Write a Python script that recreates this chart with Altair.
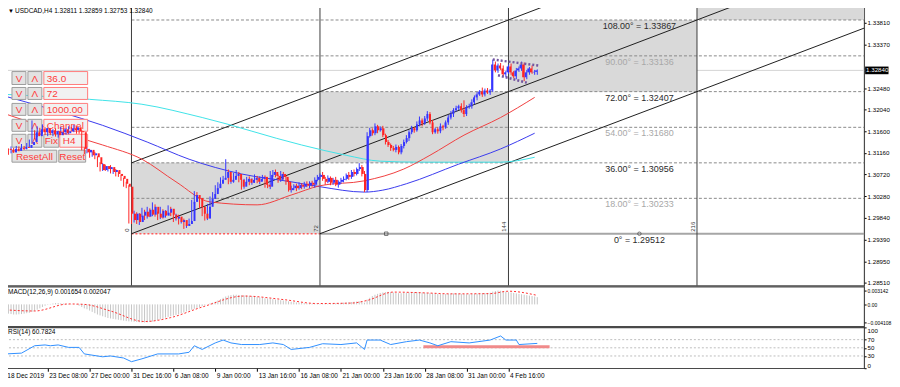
import altair as alt
import pandas as pd

FONT = "Liberation Sans"
W, H_MAIN, H_MACD, H_RSI = 863, 281, 40, 41
PX_PER_BAR = 2.63

# ---------------- candles (H4 bars, index 0 = first Gann cycle line) ----------------
bars = list(range(-48, 156))
first_open = 1.3124
closes = [
    1.3122, 1.3117, 1.3124, 1.3120, 1.3126, 1.3124, 1.3128, 1.3126, 1.3132, 1.3138,
    1.3158, 1.3150, 1.3164, 1.3158, 1.3166, 1.3156, 1.3162, 1.3154, 1.3160, 1.3152,
    1.3158, 1.3164, 1.3156, 1.3160, 1.3166, 1.3162, 1.3168, 1.3160, 1.3158, 1.3124,
    1.3117, 1.3122, 1.3111, 1.3115, 1.3107, 1.3093, 1.3081, 1.3089, 1.3083, 1.3087,
    1.3077, 1.3081, 1.3073, 1.3069, 1.3063, 1.3053, 1.3047, 1.2992,
    1.2979, 1.2992, 1.2975, 1.2988, 1.2996, 1.2986, 1.3000, 1.2990, 1.3006, 1.2992, 1.2984,
    1.2998, 1.2988, 1.2994, 1.3002, 1.2990, 1.2982, 1.2986, 1.2975, 1.2979, 1.2967,
    1.2971, 1.2977, 1.3016, 1.3030, 1.3024, 1.3006, 1.2992, 1.2982, 1.3006, 1.3022,
    1.3032, 1.3044, 1.3053, 1.3061, 1.3065, 1.3077, 1.3057, 1.3061, 1.3069, 1.3073,
    1.3061, 1.3047, 1.3057, 1.3063, 1.3055, 1.3061, 1.3065, 1.3057, 1.3063, 1.3067,
    1.3051, 1.3047, 1.3071, 1.3077, 1.3069, 1.3061, 1.3073, 1.3067, 1.3057, 1.3040,
    1.3044, 1.3049, 1.3044, 1.3051, 1.3047, 1.3053, 1.3049, 1.3055, 1.3051, 1.3061,
    1.3067, 1.3071,
    1.3063, 1.3057, 1.3065, 1.3055, 1.3061, 1.3051, 1.3057, 1.3061, 1.3063, 1.3071,
    1.3067, 1.3077, 1.3073, 1.3083, 1.3087, 1.3073, 1.3040, 1.3150, 1.3162, 1.3156,
    1.3170, 1.3162, 1.3166, 1.3152, 1.3138, 1.3132, 1.3126, 1.3122, 1.3128, 1.3117,
    1.3130, 1.3138, 1.3146, 1.3158, 1.3166, 1.3162, 1.3174, 1.3182, 1.3176, 1.3186,
    1.3195, 1.3178, 1.3158, 1.3164, 1.3160, 1.3170, 1.3168, 1.3178, 1.3188, 1.3195,
    1.3203, 1.3207, 1.3211, 1.3203, 1.3195, 1.3209, 1.3211, 1.3219, 1.3229, 1.3235,
    1.3241, 1.3235, 1.3243, 1.3239, 1.3243, 1.3296, 1.3284, 1.3294, 1.3288, 1.3276,
    1.3280, 1.3292, 1.3280, 1.3272, 1.3284, 1.3288, 1.3296, 1.3270, 1.3280, 1.3288,
    1.3280, 1.3281, 1.3284,
]
# upper / lower wick lengths in pips
wick_up = [
    4, 3, 5, 2, 4, 3, 6, 2, 4, 5, 24, 4, 6, 3, 8, 2, 5, 3, 4, 6,
    3, 5, 2, 6, 4, 3, 5, 2, 4, 4, 3, 5, 2, 4, 3, 2, 4, 6, 3, 2,
    4, 3, 2, 5, 3, 2, 4, 3,
    4, 6, 3, 5, 8, 4, 6, 3, 9, 5, 4, 8, 3, 5, 7, 4, 3, 6, 4, 5,
    3, 6, 5, 4, 8, 6, 4, 3, 5, 6, 5, 4, 6, 3, 5, 4, 26, 5, 7, 6,
    8, 4, 3, 6, 4, 5, 3, 7, 4, 5, 4, 3, 6, 8, 4, 5, 3, 6, 4, 3,
    4, 5, 3, 4, 5, 3, 4, 5, 3, 4, 5, 4, 3, 6, 4, 5, 3, 4, 6, 3,
    4, 5, 3, 6, 4, 5, 3, 8, 4, 6, 8, 5, 4, 6, 3, 4, 5, 3, 4, 3,
    4, 5, 3, 4, 5, 6, 4, 5, 3, 6, 8, 4, 5, 6, 4, 5, 3, 4, 6, 3,
    4, 5, 6, 4, 5, 3, 6, 20, 4, 5, 6, 4, 5, 3, 8, 4, 5, 3, 10, 6,
    4, 5, 6, 3, 4, 6, 3, 5, 4, 6, 4, 5, 3, 6, 4, 2,
]
wick_dn = [
    3, 5, 2, 4, 3, 5, 2, 4, 3, 4, 3, 6, 2, 5, 3, 4, 6, 2, 4, 3,
    5, 2, 4, 3, 6, 2, 4, 5, 3, 3, 4, 2, 5, 3, 4, 6, 3, 2, 4, 5,
    3, 4, 5, 2, 4, 6, 3, 20,
    8, 5, 4, 6, 3, 7, 4, 5, 3, 6, 5, 3, 6, 4, 5, 3, 7, 4, 5, 3,
    6, 4, 3, 5, 4, 6, 3, 5, 4, 3, 4, 6, 3, 5, 4, 6, 3, 5, 4, 6,
    3, 5, 6, 4, 3, 5, 4, 6, 3, 5, 4, 6, 3, 5, 4, 3, 6, 4, 5, 6,
    3, 5, 4, 6, 3, 5, 4, 3, 5, 4, 6, 3, 5, 4, 6, 3, 5, 4, 3, 6,
    4, 5, 3, 6, 4, 5, 3, 4, 5, 4, 4, 3, 5, 4, 6, 3, 4, 5, 4, 6,
    3, 5, 4, 4, 5, 3, 6, 4, 5, 3, 4, 6, 3, 5, 4, 4, 3, 5, 4, 6,
    3, 5, 4, 6, 3, 4, 5, 6, 4, 3, 5, 4, 6, 3, 5, 4, 3, 5, 3, 4,
    5, 3, 4, 6, 3, 5, 4, 6, 3, 5, 8, 4, 5, 3, 5, 6,
]

# ---------------- moving averages (read as points) ----------------
cyan_bars = [-48, -16, 4, 27, 65, 82, 95, 110, 141, 154]
cyan_vals = [1.3235, 1.3225, 1.3215, 1.3188, 1.3132, 1.3111, 1.3099, 1.3097, 1.3097, 1.3107]
blue_bars = [-48, -27, -11, 6, 22, 42, 61, 72, 89, 96, 105, 125, 141, 154]
blue_vals = [1.3231, 1.3199, 1.3172, 1.3138, 1.3103, 1.3073, 1.3057, 1.3047, 1.3036, 1.3040,
             1.3053, 1.3093, 1.3124, 1.3156]
red_bars = [-48, -27, -11, 4, 17, 30, 48, 61, 72, 89, 104, 114, 127, 141, 154]
red_vals = [1.3195, 1.3158, 1.3132, 1.3103, 1.3057, 1.3016, 1.3010, 1.3030, 1.3049, 1.3059,
            1.3083, 1.3111, 1.3152, 1.3188, 1.3229]

# ---------------- Gann grid ----------------
levels_deg = ["0°", "18.00°", "36.00°", "54.00°", "72.00°", "90.00°", "108.00°"]
levels_price = [1.29512, 1.30233, 1.30956, 1.31680, 1.32407, 1.33136, 1.33867]
levels_dark = ["d", "l", "d", "l", "d", "l", "d"]
cycle_bars = [0, 72, 144, 216]
cycle_labels = ["0", "72", "144", "216"]
box_bar0 = [0, 72, 144, 216]
box_bar1 = [72, 144, 216, 330]
box_lo = [1.29512, 1.30956, 1.32407, 1.33867]
box_hi = [1.30956, 1.32407, 1.33867, 1.35400]
diag_id = ["a"] * 4 + ["b"] * 5 + ["c"] * 4
diag_bar = [0, 72, 144, 216, 0, 72, 144, 216, 288, 72, 144, 216, 288]
diag_price = [1.30956, 1.32407, 1.33867, 1.35330, 1.29512, 1.30956, 1.32407, 1.33867, 1.35330,
              1.29512, 1.30956, 1.32407, 1.33867]
tri_id = ["u", "u", "l", "l"]
tri_bar = [138, 155.5, 140, 151]
tri_price = [1.3306, 1.3294, 1.3274, 1.3259]
marker_bar = [97.3, 194]
marker_shape = ["square", "circle"]

price_ticks = [1.28510, 1.28950, 1.29390, 1.29840, 1.30280, 1.30720, 1.31160, 1.31600,
               1.32040, 1.32480, 1.33370, 1.33810]
last_price = 1.32840

# ---------------- MACD ----------------
macd_hist_e5 = [
    -200, -210, -220, -230, -230, -225, -220, -210, -200, -190, -170, -150,
    -120, -90, -60, -30, -10, 10, 20, 30, 30, 25, 20, 15, 10, 5, 0, -10, -30,
    -60, -90, -110, -140, -170, -200, -230, -250, -270, -290, -310, -320, -330, -340, -350,
    -360, -370, -380, -385, -390,
    -395, -400, -405, -408, -411, -408, -400, -390, -375, -360, -340, -320, -300, -285, -270,
    -255, -240, -225, -205, -185,
    -160, -140, -120, -100, -80, -60, -40, -20, 0,
    20, 40, 60, 90, 120, 150, 180, 200, 210, 220, 220, 215, 210,
    205, 200, 195, 190, 180, 170, 160, 150, 140, 135, 130, 120, 110, 100, 95, 90, 80, 70, 60, 50,
    45, 40, 35, 30, 25, 20, 20, 15, 15, 10,
    10, 10, 15, 20, 20, 25, 30, 35, 40, 45, 50, 55, 60, 65, 70, 70, 40,
    110, 150, 190, 220, 240, 260, 270, 280, 285, 280, 270, 260, 255, 255, 260, 265, 270, 275, 280, 280, 275,
    270, 265, 260, 255, 250, 245, 240, 235, 235, 235, 240, 245, 250, 250, 245, 240, 235, 230, 230, 235,
    240, 245, 250, 255, 260, 260, 265,
    290, 305, 314, 310, 300, 290, 280, 270, 260, 250, 240, 230, 220, 210, 200, 190, 180, 165,
]
sig_bars = [-48, -37, -24, -18, -8, 5, 15, 27, 43, 58, 71, 84, 90, 100, 113, 122, 137, 144, 155]
sig_e5 = [-125, -150, 10, 0, -150, -390, -300, -60, 190, 110, 20, 30, 90, 280, 260, 240, 245, 300, 205]
macd_ticks = [0.003142, 0.0, -0.004108]

# ---------------- RSI ----------------
rsi_bars = [-48, -42, -37, -33, -31, -28, -24, -20, -18, -11, -8, -3, 0, 4, 10, 18, 22, 24, 27, 32,
            35, 38, 42, 49, 54, 58, 61, 68, 73, 80, 86, 89, 90, 95, 99, 105, 110, 114, 117, 122,
            129, 137, 141, 143, 147, 148, 155]
rsi_vals = [35, 37, 55, 57, 55, 57, 51, 51, 35, 28, 30, 25, 16, 23, 35, 35, 39, 55, 46, 62,
            69, 62, 58, 58, 62, 58, 46, 51, 60, 58, 62, 46, 69, 69, 58, 65, 69, 62, 55, 65,
            62, 69, 79, 69, 69, 58, 60.78]
rsi_levels = [70, 50, 30]
rsi_band_bars = [111.5, 159.7]
rsi_band_vals = [49, 56.5]

date_ticks = [-48, -32, -16, 0, 16, 32, 48, 64, 80, 96, 112, 128, 144]
date_labels = ["18 Dec 2019", "23 Dec 08:00", "27 Dec 00:00", "31 Dec 16:00", "6 Jan 08:00",
               "9 Jan 00:00", "13 Jan 16:00", "16 Jan 08:00", "21 Jan 00:00", "23 Jan 16:00",
               "28 Jan 08:00", "31 Jan 00:00", "4 Feb 16:00"]

# control-panel widget layout (pixels inside the price panel)
widgets = [
    (7, 66, 21, 79, "btn", "V"), (23, 66, 37, 79, "btn", "Λ"), (39, 66, 83, 79, "box", "36.0"),
    (7, 82, 21, 94, "btn", "V"), (23, 82, 37, 94, "btn", "Λ"), (39, 82, 83, 94, "box", "72"),
    (7, 98, 21, 110, "btn", "V"), (23, 98, 37, 110, "btn", "Λ"), (39, 98, 83, 110, "box", "1000.00"),
    (7, 114, 21, 126, "btn", "V"), (23, 114, 37, 126, "btn", "Λ"), (39, 114, 83, 126, "box", "Channel"),
    (7, 129, 21, 142, "btn", "V"), (23, 129, 37, 142, "btn", "Λ"), (39, 129, 54, 142, "btn", "Fix"),
    (55, 129, 83, 142, "box", "H4"),
    (7, 145, 52, 157, "btn", "ResetAll"), (54, 145, 81, 157, "btn", "Reset"),
]

# ---------------- build tables ----------------
opens = [first_open] + closes[:-1]
highs = [round(max(o, c) + w * 0.0001, 5) for o, c, w in zip(opens, closes, wick_up)]
lows = [round(min(o, c) - w * 0.0001, 5) for o, c, w in zip(opens, closes, wick_dn)]
cdf = pd.DataFrame({"bar": bars, "open": opens, "close": closes, "high": highs, "low": lows})
cdf["dir"] = ["up" if c >= o else "down" for o, c in zip(opens, closes)]

x0 = -48.3
xs = alt.Scale(domain=[x0, x0 + W / PX_PER_BAR], nice=False, zero=False)
ys = alt.Scale(domain=[1.28455, 1.34155], nice=False, zero=False)
ms = alt.Scale(domain=[-0.005007, 0.004055], nice=False, zero=False)
rs = alt.Scale(domain=[0, 100], nice=False, zero=False)

AX = dict(labelColor="#000000", tickSize=2, tickColor="#000000", domain=False,
          grid=False, labelPadding=1, title=None, labelFont=FONT, labelOverlap=False)


def X(field="bar"):
    return alt.X(f"{field}:Q", scale=xs, axis=None)


def Y(field, scale=ys):
    return alt.Y(f"{field}:Q", scale=scale, axis=None)


def text1(t, x, y, size, color="#000000", align="left", baseline="middle"):
    return alt.Chart(pd.DataFrame({"t": [t]})).mark_text(
        align=align, baseline=baseline, fontSize=size, color=color, font=FONT
    ).encode(x=alt.value(x), y=alt.value(y), text="t:N")


RES = dict(x="independent", y="independent", color="independent", fill="independent",
           stroke="independent", shape="independent")

bid = alt.Chart(pd.DataFrame({"p": [last_price]})).mark_rule(color="#d4d4d4", strokeWidth=1).encode(
    x=alt.value(0), x2=alt.value(W), y=Y("p"))

boxes = alt.Chart(pd.DataFrame({"b0": box_bar0, "b1": box_bar1, "lo": box_lo, "hi": box_hi})).mark_rect(
    color="#d9d9d9", clip=True).encode(x=X("b0"), x2="b1:Q", y=Y("lo"), y2="hi:Q")

lvl = pd.DataFrame({"deg": levels_deg, "p": levels_price, "tone": levels_dark, "start": 0})
lvl["txt"] = [f"{d} = {p:.5f}" for d, p in zip(levels_deg, levels_price)]
lvl_lines = alt.Chart(lvl.iloc[1:]).mark_rule(color="#8a8a8a", strokeDash=[3, 2], strokeWidth=1).encode(
    x=X("start"), x2=alt.value(W), y=Y("p"))
zero_red = alt.Chart(pd.DataFrame({"a": [0], "b": [72], "p": [levels_price[0]]})).mark_rule(
    color="#ff5a5a", strokeDash=[2, 2], strokeWidth=1.5).encode(x=X("a"), x2="b:Q", y=Y("p"))
zero_gray = alt.Chart(pd.DataFrame({"a": [72], "p": [levels_price[0]]})).mark_rule(
    color="#a6a6a6", strokeWidth=2).encode(x=X("a"), x2=alt.value(W), y=Y("p"))
vlines = alt.Chart(pd.DataFrame({"bar": cycle_bars})).mark_rule(color="#3c3c3c", strokeWidth=1).encode(
    x=X("bar"), y=alt.value(0), y2=alt.value(H_MAIN))
diag = alt.Chart(pd.DataFrame({"id": diag_id, "bar": diag_bar, "p": diag_price})).mark_line(
    color="#1e1e1e", strokeWidth=1, clip=True).encode(x=X("bar"), y=Y("p"), detail="id:N")

ma = pd.DataFrame({
    "bar": cyan_bars + blue_bars + red_bars,
    "v": cyan_vals + blue_vals + red_vals,
    "s": ["c"] * len(cyan_bars) + ["b"] * len(blue_bars) + ["r"] * len(red_bars),
})
ma_lines = alt.Chart(ma).mark_line(strokeWidth=1, interpolate="monotone").encode(
    x=X("bar"), y=Y("v"),
    color=alt.Color("s:N", scale=alt.Scale(domain=["c", "b", "r"], range=["#3fe3e8", "#3a3aee", "#f04040"]),
                    legend=None))

wdf = pd.DataFrame(widgets, columns=["x1", "y1", "x2", "y2", "kind", "label"])
w_rect = alt.Chart(wdf).mark_rect(strokeWidth=1).encode(
    x=alt.X("x1:Q", scale=None, axis=None), x2="x2:Q",
    y=alt.Y("y1:Q", scale=None, axis=None), y2="y2:Q",
    fill=alt.Fill("kind:N", scale=alt.Scale(domain=["btn", "box"], range=["#e2e2e2", "#f1f1f1"]), legend=None),
    stroke=alt.Stroke("kind:N", scale=alt.Scale(domain=["btn", "box"], range=["#9c9c9c", "#ff7c7c"]), legend=None))
w_btn_txt = alt.Chart(wdf).transform_filter("datum.kind == 'btn'").transform_calculate(
    tx="(datum.x1 + datum.x2) / 2", ty="(datum.y1 + datum.y2) / 2 + 0.5").mark_text(
    color="#ff3b3b", fontSize=10, font=FONT, align="center", baseline="middle").encode(
    x=alt.X("tx:Q", scale=None, axis=None), y=alt.Y("ty:Q", scale=None, axis=None), text="label:N")
w_box_txt = alt.Chart(wdf).transform_filter("datum.kind == 'box'").transform_calculate(
    tx="datum.x1 + 3", ty="(datum.y1 + datum.y2) / 2 + 0.5").mark_text(
    color="#ff3b3b", fontSize=10, font=FONT, align="left", baseline="middle").encode(
    x=alt.X("tx:Q", scale=None, axis=None), y=alt.Y("ty:Q", scale=None, axis=None), text="label:N")

candle_color = alt.Color("dir:N", scale=alt.Scale(domain=["up", "down"], range=["#3535ff", "#ff2424"]),
                         legend=None)
wicks = alt.Chart(cdf).mark_rule(strokeWidth=1).encode(x=X("bar"), y=Y("low"), y2="high:Q", color=candle_color)
bodies = alt.Chart(cdf).mark_bar(width=2).encode(
    x=X("bar"),
    y=alt.Y("open:Q", scale=ys, axis=alt.Axis(orient="right", values=price_ticks, format=".5f",
                                              labelFontSize=6.2, **AX)),
    y2="close:Q", color=candle_color)

tri = alt.Chart(pd.DataFrame({"id": tri_id, "bar": tri_bar, "p": tri_price})).mark_line(
    color="#74559f", strokeWidth=2.5, strokeDash=[2, 2]).encode(x=X("bar"), y=Y("p"), detail="id:N")

markers = alt.Chart(pd.DataFrame({"bar": marker_bar, "p": [levels_price[0]] * 2, "sh": marker_shape})).mark_point(
    filled=False, size=12, color="#404040", strokeWidth=1).encode(
    x=X("bar"), y=Y("p"), shape=alt.Shape("sh:N", scale=None, legend=None))

cyc = alt.Chart(pd.DataFrame({"bar": cycle_bars, "t": cycle_labels, "p": [levels_price[0]] * 4})).mark_text(
    angle=270, align="left", baseline="bottom", fontSize=6, font=FONT, color="#333333", dx=2, dy=-1).encode(
    x=X("bar"), y=Y("p"), text="t:N")

lvl_txt = alt.Chart(lvl.assign(bx=194)).mark_text(
    align="center", baseline="top", fontSize=9, font=FONT, dy=2).encode(
    x=X("bx"), y=Y("p"), text="txt:N",
    color=alt.Color("tone:N", scale=alt.Scale(domain=["d", "l"], range=["#2b2b2b", "#a8a8a8"]), legend=None))

header = text1("USDCAD,H4  1.32811 1.32859 1.32753 1.32840", 10, 5.5, 6.5)
tri_icon = text1("▼", 3, 5.5, 6)

pbox = alt.Chart(pd.DataFrame({"lo": [last_price - 0.00078], "hi": [last_price + 0.00078]})).mark_rect(
    color="#000000").encode(x=alt.value(W + 1), x2=alt.value(W + 24.5), y=Y("lo"), y2="hi:Q")
ptxt = alt.Chart(pd.DataFrame({"p": [last_price], "t": [f"{last_price:.5f}"]})).mark_text(
    align="left", baseline="middle", fontSize=6.2, font=FONT, color="#ffffff").encode(
    x=alt.value(W + 2), y=Y("p"), text="t:N")

main = alt.layer(
    bid, boxes, lvl_lines, zero_red, zero_gray, vlines, diag, ma_lines, w_rect, w_btn_txt, w_box_txt,
    wicks, bodies, tri, markers, cyc, lvl_txt, header, tri_icon, pbox, ptxt,
).resolve_scale(**RES).properties(width=W, height=H_MAIN)

# ---------------- MACD panel ----------------
hdf = pd.DataFrame({"bar": bars, "m": [v * 1e-5 for v in macd_hist_e5]})
hist = alt.Chart(hdf).mark_rule(color="#c6c6c6", strokeWidth=1).encode(
    x=X("bar"),
    y=alt.Y("m:Q", scale=ms, axis=alt.Axis(
        orient="right", values=macd_ticks, labelFontSize=5,
        labelExpr="datum.value == 0 ? '0.00' : format(datum.value, '.6f')", **AX)),
    y2=alt.datum(0))
sig = alt.Chart(pd.DataFrame({"bar": sig_bars, "s": [v * 1e-5 for v in sig_e5]})).mark_line(
    color="#ff2e2e", strokeDash=[2, 2], strokeWidth=1, interpolate="monotone").encode(
    x=X("bar"), y=Y("s", ms))
macd_lbl = text1("MACD(12,26,9) 0.001654 0.002047", 3, 5, 6.5)
macd = alt.layer(hist, sig, macd_lbl).resolve_scale(x="independent", y="independent").properties(
    width=W, height=H_MACD)

# ---------------- RSI panel ----------------
rlv = alt.Chart(pd.DataFrame({"v": rsi_levels})).mark_rule(color="#bdbdbd", strokeDash=[2, 2]).encode(
    x=alt.value(0), x2=alt.value(W), y=Y("v", rs))
rband = alt.Chart(pd.DataFrame({"a": [rsi_band_bars[0]], "b": [rsi_band_bars[1]],
                                "lo": [rsi_band_vals[0]], "hi": [rsi_band_vals[1]]})).mark_rect(
    color="#f08a8a").encode(x=X("a"), x2="b:Q", y=Y("lo", rs), y2="hi:Q")
label_expr = "[" + ",".join(f"'{s}'" for s in date_labels) + "][round((datum.value + 48) / 16)]"
rline = alt.Chart(pd.DataFrame({"bar": rsi_bars, "v": rsi_vals})).mark_line(
    color="#2f8fff", strokeWidth=1).encode(
    x=alt.X("bar:Q", scale=xs, axis=alt.Axis(
        orient="bottom", values=date_ticks, labelExpr=label_expr, labelAlign="left", labelOffset=1,
        labelBaseline="top", labelBound=False, labelFlush=False, labelFontSize=6.5,
        **{**AX, "tickSize": 3})),
    y=alt.Y("v:Q", scale=rs, axis=alt.Axis(
        orient="right", values=[0, 30, 50, 70, 100], labelFlush=True, labelFontSize=6.2, **AX)))
rsi_lbl = text1("RSI(14) 60.7824", 3, 5, 6.5)
rsi = alt.layer(rlv, rband, rline, rsi_lbl).resolve_scale(x="independent", y="independent").properties(
    width=W, height=H_RSI)

chart = alt.vconcat(main, macd, rsi, spacing=1, bounds="flush").properties(
    padding={"left": -5, "top": -5, "right": 0, "bottom": 0}, background="#ffffff"
).configure_view(stroke="#4a4a4a", strokeWidth=1.2)

chart.save("out.html", embed_options={"renderer": "svg", "actions": False})
